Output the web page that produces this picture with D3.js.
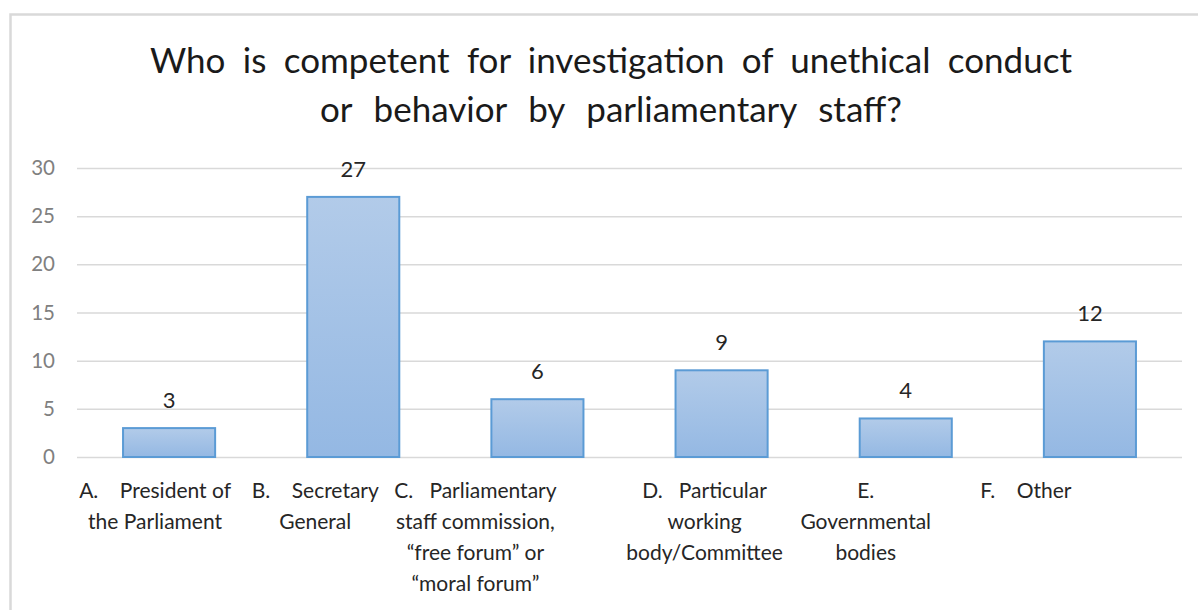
<!DOCTYPE html>
<html>
<head>
<meta charset="utf-8">
<script src="https://cdn.jsdelivr.net/npm/d3@7"></script>
<style>
  html, body { margin: 0; padding: 0; background: #fff; }
  svg { display: block; font-family: Lato, "Open Sans", sans-serif; }
  text { white-space: pre; }
</style>
</head>
<body>
<svg id="chart" width="1198" height="610"></svg>
<script>
// Survey answers: who investigates unethical conduct by parliamentary staff
const categories = ["A", "B", "C", "D", "E", "F"];
const counts = [3, 27, 6, 9, 4, 12];
const categoryLines = [
  ["A.    President of", "the Parliament"],
  ["B.    Secretary", "General"],
  ["C.   Parliamentary", "staff commission,", "\u201cfree forum\u201d or", "\u201cmoral forum\u201d"],
  ["D.   Particular", "working", "body/Committee"],
  ["E.", "Governmental", "bodies"],
  ["F.    Other"]
];
const yTicks = [0, 5, 10, 15, 20, 25, 30];
const titleLines = [
  "Who is competent for investigation of unethical conduct",
  "or behavior by parliamentary staff?"
];

// Layout
const plot = { left: 77, right: 1182, top: 168, bottom: 457 };
const labelNudge = [-14, -38, -62, -17, -40, -64];

const svg = d3.select("#chart");

// Chart frame
svg.append("rect")
  .attr("x", 10.5).attr("y", 14.5)
  .attr("width", 1200).attr("height", 620)
  .attr("fill", "#fff")
  .attr("stroke", "#d9d9d9").attr("stroke-width", 2.5);

const x = d3.scaleBand()
  .domain(categories)
  .range([plot.left, plot.right])
  .paddingInner(0.5)
  .paddingOuter(0.25);

const y = d3.scaleLinear()
  .domain([0, 30])
  .range([plot.bottom, plot.top]);

// Bar gradient
const defs = svg.append("defs");
const grad = defs.append("linearGradient")
  .attr("id", "barFill").attr("x1", 0).attr("y1", 0).attr("x2", 0).attr("y2", 1);
grad.append("stop").attr("offset", "0%").attr("stop-color", "#b2cbe9");
grad.append("stop").attr("offset", "100%").attr("stop-color", "#94b8e3");

// Gridlines and y-axis labels
const yAxis = d3.axisLeft(y)
  .tickValues(yTicks)
  .tickSize(-(plot.right - plot.left))
  .tickPadding(22)
  .tickFormat(d3.format("d"));

const gy = svg.append("g")
  .attr("transform", `translate(${plot.left},0)`)
  .call(yAxis);
gy.select(".domain").remove();
gy.selectAll(".tick line")
  .attr("stroke", "#d9d9d9").attr("stroke-width", 1.5);
gy.selectAll(".tick text")
  .attr("fill", "#808080")
  .attr("font-size", 20.5)
  .attr("font-family", "Lato, sans-serif");

// Bars
svg.append("g").selectAll("rect")
  .data(categories)
  .join("rect")
  .attr("x", d => x(d))
  .attr("y", (d, i) => y(counts[i]))
  .attr("width", x.bandwidth())
  .attr("height", (d, i) => y(0) - y(counts[i]))
  .attr("fill", "url(#barFill)")
  .attr("stroke", "#5b9bd5")
  .attr("stroke-width", 2);

// Value labels
svg.append("g").selectAll("text")
  .data(categories)
  .join("text")
  .attr("x", d => x(d) + x.bandwidth() / 2)
  .attr("y", (d, i) => y(counts[i]) - 20)
  .attr("text-anchor", "middle")
  .attr("font-size", 22)
  .attr("fill", "#262626")
  .text((d, i) => counts[i]);

// Category labels
const catG = svg.append("g");
categories.forEach((c, i) => {
  const cx = x(c) + x.bandwidth() / 2 + labelNudge[i];
  const t = catG.append("text")
    .attr("text-anchor", "middle")
    .attr("font-size", 21)
    .attr("fill", "#262626");
  categoryLines[i].forEach((line, j) => {
    t.append("tspan")
      .attr("x", cx)
      .attr("y", 498 + j * 31)
      .text(line);
  });
});

// Title, two centred lines with word spacing widened to fill their span
const titleWidths = [922, 582];
const titleY = [73, 122];
titleLines.forEach((line, i) => {
  const t = svg.append("text")
    .attr("x", 611)
    .attr("y", titleY[i])
    .attr("text-anchor", "middle")
    .attr("font-size", 35)
    .attr("fill", "#1a1a1a")
    .text(line);
  const words = line.split(" ").length - 1;
  const w = t.node().getComputedTextLength();
  t.attr("word-spacing", Math.max(0, (titleWidths[i] - w) / words));
});
</script>
</body>
</html>
